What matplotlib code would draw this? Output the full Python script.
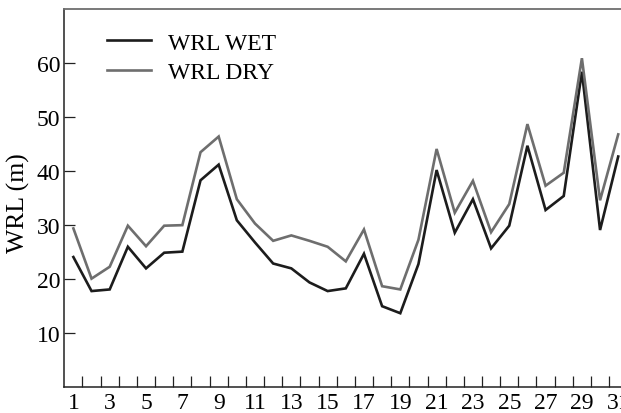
import numpy as np
import matplotlib
matplotlib.use("Agg")
import matplotlib.pyplot as plt

# Sampling points and water-level readings (m)
points = list(range(1, 32))
wrl_wet = [24.0, 17.7, 18.0, 25.9, 21.9, 24.8, 25.0, 38.2, 41.1, 30.8,
           26.7, 22.8, 21.9, 19.3, 17.7, 18.2, 24.6, 14.9, 13.6, 22.7,
           40.1, 28.5, 34.7, 25.6, 29.8, 44.6, 32.7, 35.3, 58.3, 29.0,
           42.6]
wrl_dry = [29.3, 20.0, 22.2, 29.8, 26.0, 29.8, 29.9, 43.4, 46.3, 34.7,
           30.2, 27.0, 28.0, 27.0, 25.9, 23.2, 29.1, 18.6, 18.0, 27.2,
           44.0, 32.2, 38.1, 28.6, 33.8, 48.6, 37.2, 39.6, 60.8, 34.5,
           46.7]
series_labels = ["WRL WET", "WRL DRY"]
y_ticks = [10, 20, 30, 40, 50, 60]
x_labelled = list(range(1, 32, 2))

plt.rcParams["font.family"] = ["Liberation Serif", "DejaVu Serif"]

fig = plt.figure(figsize=(6.21, 4.14), dpi=100)
W, H = 621, 414
left, right, bottom, top = 64.3, 627.3, 387.7, 9.5
ax = fig.add_axes([left / W, 1 - bottom / H, (right - left) / W, (bottom - top) / H])

ax.plot(points, wrl_wet, color="#1c1c1c", lw=1.9, label=series_labels[0],
        solid_joinstyle="miter")
ax.plot(points, wrl_dry, color="#6e6e6e", lw=1.9, label=series_labels[1],
        solid_joinstyle="miter")

ax.set_xlim(0.5, 31.5)
ax.set_ylim(0, 70)

# Category boundaries carry the tick marks; odd categories carry the labels
ax.set_xticks(np.arange(1.5, 31.0, 1.0))
ax.set_xticklabels([])
ax.set_xticks(x_labelled, minor=True)
ax.set_xticklabels([str(v) for v in x_labelled], minor=True, fontsize=17)
ax.tick_params(axis="x", which="major", direction="in", length=8, width=0.9,
               color="#222222")
ax.tick_params(axis="x", which="minor", length=0, pad=4)

ax.set_yticks(y_ticks)
ax.set_yticklabels([str(v) for v in y_ticks], fontsize=17)
ax.tick_params(axis="y", direction="in", length=8, width=0.9, pad=3,
               color="#222222")

ax.set_ylabel("WRL (m)", fontsize=18.5)
ax.yaxis.set_label_coords(30 / W, 1 - 203 / H, transform=fig.transFigure)

for s in ["left", "bottom"]:
    ax.spines[s].set_color("#222222")
    ax.spines[s].set_linewidth(1.1)
ax.spines["top"].set_color("#6e6e6e")
ax.spines["top"].set_linewidth(1.3)
ax.spines["right"].set_visible(False)

ax.legend(loc="upper left", bbox_to_anchor=(107 / W, 1 - 33 / H),
          bbox_transform=fig.transFigure, frameon=False, fontsize=17,
          handlelength=1.85, handletextpad=0.75, labelspacing=0.35,
          borderpad=0, borderaxespad=0)

fig.savefig("out.png", dpi=100)
